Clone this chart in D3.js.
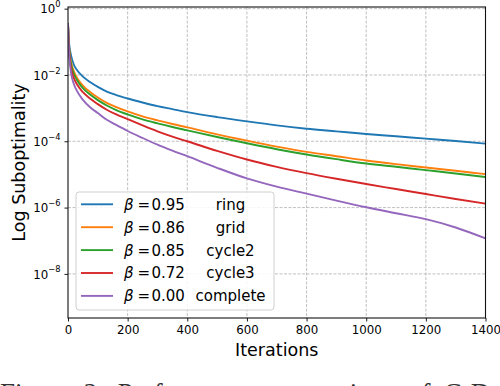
<!DOCTYPE html>
<html>
<head>
<meta charset="utf-8">
<script src="https://cdn.jsdelivr.net/npm/d3@7"></script>
<style>
  html, body { margin: 0; padding: 0; background: #fff; overflow: hidden; }
  svg { display: block; }
</style>
</head>
<body>
<svg id="chart" width="500" height="386"></svg>
<script>
const iterations = [0, 2, 5, 10, 20, 30, 50, 75, 100, 130, 160, 200, 250, 300, 350, 400, 500, 600, 700, 800, 900, 1000, 1100, 1200, 1300, 1400]

// log10 of suboptimality for each topology
const ringLog = [-0.45, -0.85, -1.15, -1.40, -1.70, -1.85, -2.05, -2.22, -2.36, -2.50, -2.60, -2.71, -2.83, -2.94, -3.03, -3.12, -3.27, -3.40, -3.52, -3.62, -3.70, -3.78, -3.85, -3.92, -3.99, -4.07]
const gridLog = [-0.45, -0.95, -1.30, -1.60, -1.90, -2.08, -2.32, -2.52, -2.68, -2.84, -2.96, -3.10, -3.25, -3.37, -3.48, -3.58, -3.79, -3.98, -4.16, -4.32, -4.45, -4.58, -4.69, -4.79, -4.89, -4.99]
const cycle2Log = [-0.45, -0.98, -1.35, -1.66, -1.97, -2.15, -2.40, -2.60, -2.76, -2.92, -3.05, -3.19, -3.34, -3.46, -3.57, -3.67, -3.87, -4.06, -4.24, -4.40, -4.54, -4.67, -4.77, -4.87, -4.97, -5.08]
const cycle3Log = [-0.45, -1.02, -1.42, -1.78, -2.10, -2.28, -2.52, -2.72, -2.88, -3.05, -3.18, -3.33, -3.52, -3.70, -3.86, -4.00, -4.29, -4.55, -4.77, -4.96, -5.13, -5.29, -5.44, -5.59, -5.74, -5.88]
const completeLog = [-0.45, -1.08, -1.52, -1.92, -2.28, -2.48, -2.75, -2.98, -3.15, -3.35, -3.50, -3.69, -3.90, -4.10, -4.28, -4.45, -4.80, -5.12, -5.37, -5.58, -5.79, -5.99, -6.17, -6.35, -6.60, -6.93]

const betas = ['0.95', '0.86', '0.85', '0.72', '0.00']
const names = ['ring', 'grid', 'cycle2', 'cycle3', 'complete']
const colors = ['#1f77b4', '#ff7f0e', '#2ca02c', '#d62728', '#9467bd']

const xTicks = [0, 200, 400, 600, 800, 1000, 1200, 1400]
const yExponents = [0, -2, -4, -6, -8]

const series = [ringLog, gridLog, cycle2Log, cycle3Log, completeLog].map((vals, i) => ({
  name: names[i],
  beta: betas[i],
  color: colors[i],
  points: iterations.map((it, j) => ({ x: it, y: Math.pow(10, vals[j]) }))
}))

const margin = { left: 68, right: 14.5, top: 7, bottom: 68 }
const width = 500 - margin.left - margin.right
const height = 386 - margin.top - margin.bottom

const svg = d3.select('#chart')
const font = 'DejaVu Sans, sans-serif'

const xScale = d3.scaleLinear().domain([0, 1400]).range([0, width])
const yScale = d3.scaleLog().domain([Math.pow(10, -9.33), Math.pow(10, 0.05)]).range([height, 0])

const g = svg.append('g').attr('transform', `translate(${margin.left},${margin.top})`)

// grid
g.append('g')
  .selectAll('line')
  .data(xTicks.slice(1, -1))
  .join('line')
  .attr('x1', (d) => xScale(d))
  .attr('x2', (d) => xScale(d))
  .attr('y1', 0)
  .attr('y2', height)
  .attr('stroke', '#b0b0b0')
  .attr('stroke-width', 0.8)
  .attr('stroke-dasharray', '3,1.5')

g.append('g')
  .selectAll('line')
  .data(yExponents)
  .join('line')
  .attr('x1', 0)
  .attr('x2', width)
  .attr('y1', (d) => yScale(Math.pow(10, d)))
  .attr('y2', (d) => yScale(Math.pow(10, d)))
  .attr('stroke', '#b0b0b0')
  .attr('stroke-width', 0.8)
  .attr('stroke-dasharray', '3,1.5')

// curves
g.append('clipPath').attr('id', 'plot-clip').append('rect').attr('width', width).attr('height', height)

const line = d3
  .line()
  .x((d) => xScale(d.x))
  .y((d) => yScale(d.y))
  .curve(d3.curveMonotoneX)

g.append('g')
  .attr('clip-path', 'url(#plot-clip)')
  .selectAll('path')
  .data(series)
  .join('path')
  .attr('fill', 'none')
  .attr('stroke', (d) => d.color)
  .attr('stroke-width', 1.9)
  .attr('d', (d) => line(d.points))

// axes
const xAxis = g
  .append('g')
  .attr('transform', `translate(0,${height})`)
  .call(d3.axisBottom(xScale).tickValues(xTicks).tickFormat(d3.format('d')).tickSize(3.5).tickPadding(4).tickSizeOuter(0))
xAxis.select('.domain').remove()
xAxis.selectAll('line').attr('stroke', '#000').attr('stroke-width', 0.9)
xAxis.selectAll('text').attr('font-family', font).attr('font-size', '11.8px').attr('fill', '#000')

const yAxis = g
  .append('g')
  .call(
    d3
      .axisLeft(yScale)
      .tickValues(yExponents.map((e) => Math.pow(10, e)))
      .tickSize(3.5)
      .tickPadding(4)
      .tickFormat(() => '')
  )
yAxis.select('.domain').remove()
yAxis.selectAll('line').attr('stroke', '#000').attr('stroke-width', 0.9)

const yLabels = yAxis
  .selectAll('.tick')
  .data(yExponents)
  .select('text')
  .attr('font-family', font)
  .attr('font-size', '11.8px')
  .attr('fill', '#000')
  .attr('dy', '0.36em')
  .attr('x', -7.5)
yLabels.append('tspan').text('10')
yLabels
  .append('tspan')
  .attr('font-size', '8.3px')
  .attr('dy', '-0.75em')
  .text((d) => (d === 0 ? '0' : '\u2212' + Math.abs(d)))

// frame
g.append('rect')
  .attr('width', width)
  .attr('height', height)
  .attr('fill', 'none')
  .attr('stroke', '#111')
  .attr('stroke-width', 1.1)

// axis titles
svg
  .append('text')
  .attr('x', margin.left + width / 2)
  .attr('y', 356)
  .attr('text-anchor', 'middle')
  .attr('font-family', font)
  .attr('font-size', '17.5px')
  .attr('fill', '#000')
  .text('Iterations')

svg
  .append('text')
  .attr('transform', `translate(25,${margin.top + height / 2}) rotate(-90)`)
  .attr('text-anchor', 'middle')
  .attr('font-family', font)
  .attr('font-size', '17.5px')
  .attr('fill', '#000')
  .text('Log Suboptimality')

// legend
const legend = g.append('g').attr('transform', `translate(${76 - margin.left},${192 - margin.top})`)
legend
  .append('rect')
  .attr('width', 198)
  .attr('height', 118)
  .attr('rx', 3)
  .attr('fill', '#fff')
  .attr('fill-opacity', 0.85)
  .attr('stroke', '#d0d0d0')
  .attr('stroke-width', 1)

const rows = legend
  .selectAll('.entry')
  .data(series)
  .join('g')
  .attr('class', 'entry')
  .attr('transform', (d, i) => `translate(0,${12.3 + i * 22.9})`)

rows
  .append('line')
  .attr('x1', 5)
  .attr('x2', 37)
  .attr('stroke', (d) => d.color)
  .attr('stroke-width', 1.9)

const labelText = rows
  .append('text')
  .attr('font-family', font)
  .attr('font-size', '15px')
  .attr('fill', '#000')
  .attr('dy', '0.36em')
labelText.append('tspan').attr('x', 48).attr('font-style', 'italic').text('\u03b2')
labelText.append('tspan').attr('x', 61.5).text('=')
labelText.append('tspan').attr('x', 75.5).text((d) => d.beta)

rows
  .append('text')
  .attr('x', 154.5)
  .attr('dy', '0.36em')
  .attr('text-anchor', 'middle')
  .attr('font-family', font)
  .attr('font-size', '15px')
  .attr('fill', '#000')
  .text((d) => d.name)

// caption of the page, only its top edge shows
svg
  .append('text')
  .attr('x', 0)
  .attr('y', 401.5)
  .attr('font-family', 'Liberation Serif, serif')
  .attr('font-size', '27px')
  .attr('word-spacing', '6.4px')
  .attr('fill', '#333')
  .text('Figure 2: Performance comparison of C-D')
</script>
</body>
</html>
